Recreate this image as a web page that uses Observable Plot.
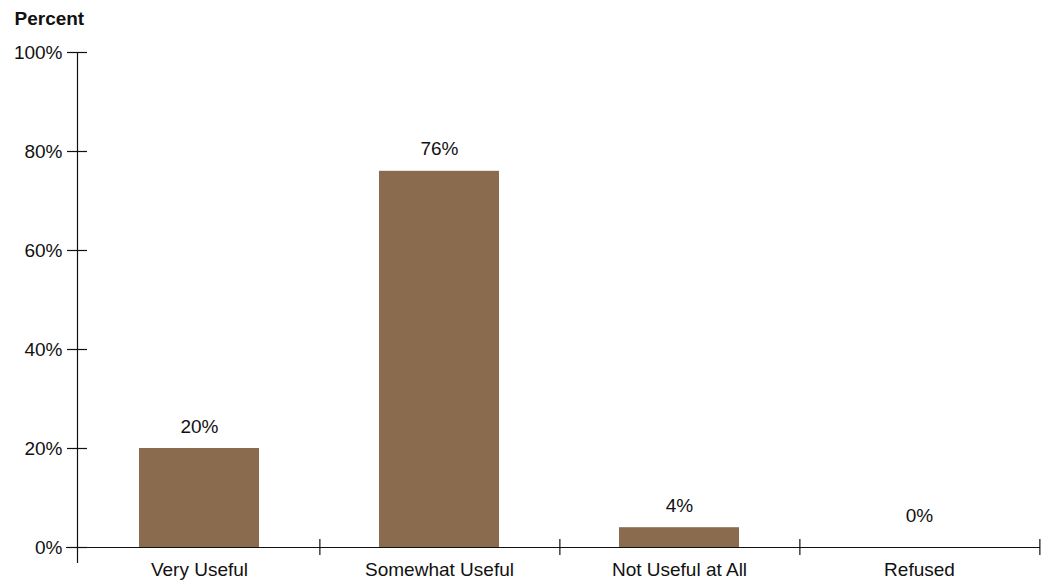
<!DOCTYPE html>
<html>
<head>
<meta charset="utf-8">
<script src="https://cdn.jsdelivr.net/npm/d3@7"></script>
<script src="https://cdn.jsdelivr.net/npm/@observablehq/plot@0.6"></script>
<style>
  html, body { margin: 0; padding: 0; background: #fff; }
  #chart svg { display: block; }
</style>
</head>
<body>
<div id="chart"></div>
<script>
const categories = ["Very Useful", "Somewhat Useful", "Not Useful at All", "Refused"];
const values = [20, 76, 4, 0];
const yTicks = [0, 20, 40, 60, 80, 100];
const yTickLabels = ["0%", "20%", "40%", "60%", "80%", "100%"];
const yLabel = "Percent";

const data = categories.map((c, i) => ({category: c, value: values[i]}));

const W = 1050, H = 586;
const mL = 77, mR = 10, mT = 52, mB = 39;
const plotW = W - mL - mR, plotH = H - mT - mB;
const step = plotW / categories.length;
const font = "'Liberation Sans Narrow', 'Arial Narrow', 'Liberation Sans', Arial, sans-serif";
const ink = "#111";
const fs = 19;

const chart = Plot.plot({
  width: W,
  height: H,
  marginLeft: mL,
  marginRight: mR,
  marginTop: mT,
  marginBottom: mB,
  style: {fontFamily: font, fontSize: fs + "px", color: ink, background: "#fff"},
  x: {domain: categories, paddingInner: 0.5, paddingOuter: 0.25, label: null},
  y: {domain: [0, 100], label: null},
  marks: [
    Plot.barY(data, {x: "category", y: "value", fill: "#8a6b4d"}),
    // y axis line extending below baseline
    Plot.frame({anchor: "left", stroke: ink, strokeWidth: 1.2, insetBottom: -15}),
    // baseline
    Plot.ruleY([0], {stroke: ink, strokeWidth: 1.2, insetLeft: -11}),
    // y ticks crossing the axis line
    Plot.tickY(yTicks, {y: (d) => d, stroke: ink, strokeWidth: 1.2, insetLeft: -10, insetRight: plotW - 10}),
    Plot.axisY(yTicks, {tickSize: 0, tickPadding: 15, tickFormat: (d) => yTickLabels[yTicks.indexOf(d)], fill: ink, fontSize: fs}),
    // category separator ticks
    Plot.tickX(categories, {x: (d) => d, dx: step / 2, stroke: ink, strokeWidth: 1.2, insetTop: plotH - 8, insetBottom: -8}),
    Plot.axisX(categories, {tickSize: 0, tickPadding: 15, fill: ink, fontSize: fs}),
    // value labels
    Plot.text(data.filter((d) => d.value > 0), {x: "category", y: "value", text: (d) => d.value + "%", dy: -22, fill: ink, fontSize: fs}),
    Plot.text(data.filter((d) => d.value === 0), {x: "category", y: "value", text: (d) => d.value + "%", dy: -32, fill: ink, fontSize: fs}),
    // y label at top-left
    Plot.text([yLabel], {frameAnchor: "top-left", dx: -63, dy: -41, textAnchor: "start", fontWeight: "bold", fill: ink, fontSize: fs})
  ]
});
document.getElementById("chart").appendChild(chart);
</script>
</body>
</html>
